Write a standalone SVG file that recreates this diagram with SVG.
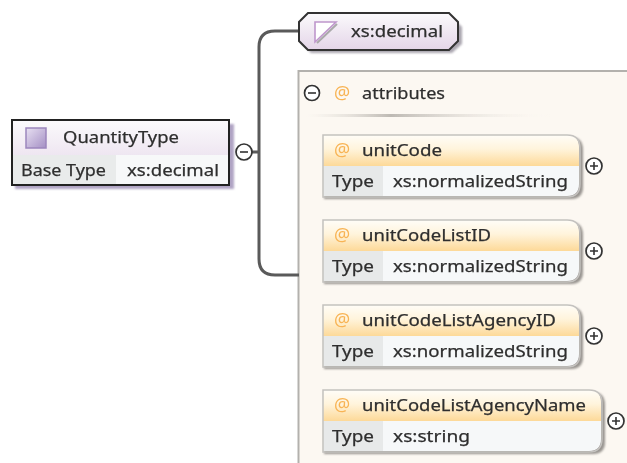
<svg xmlns="http://www.w3.org/2000/svg" width="627" height="463" viewBox="0 0 627 463">
<defs>
<linearGradient id="pg" x1="0" y1="0" x2="0" y2="1"><stop offset="0" stop-color="#fbfafc"/><stop offset="1" stop-color="#e4d5e8"/></linearGradient>
<linearGradient id="og" x1="0" y1="0" x2="0" y2="1"><stop offset="0" stop-color="#fffdf8"/><stop offset="0.45" stop-color="#fff4dc"/><stop offset="1" stop-color="#fdd998"/></linearGradient>
<linearGradient id="sq" x1="0" y1="0" x2="1" y2="1"><stop offset="0" stop-color="#e8e0f2"/><stop offset="1" stop-color="#a48fc4"/></linearGradient>
<linearGradient id="sep" x1="0" y1="0" x2="1" y2="0"><stop offset="0" stop-color="#e8e4de" stop-opacity="0"/><stop offset="0.35" stop-color="#bdb9b3"/><stop offset="1" stop-color="#fbf7f1" stop-opacity="0"/></linearGradient>
<filter id="soft" x="-10%" y="-10%" width="120%" height="120%"><feGaussianBlur stdDeviation="0.4"/></filter>
<filter id="sh" x="-10%" y="-20%" width="120%" height="140%"><feGaussianBlur stdDeviation="1"/></filter>
</defs>
<style>
text{font-family:"Noto Sans","DejaVu Sans",sans-serif;font-size:17px;fill:#2e2e2e;filter:url(#soft);stroke:#2e2e2e;stroke-width:.25}
.at{fill:#f8b455;stroke:none;font-size:18px}
.conn{fill:none;stroke:#5a5a5a;stroke-width:3}
.tog{fill:#fff;stroke:#333;stroke-width:1.7}
.sign{stroke:#333;stroke-width:1.6;fill:none}
.frame{fill:none;stroke:#c4c2bf;stroke-width:1.500}
.hdr{fill:url(#og)}
.lab{fill:#e7e9e9}
.val{fill:#f6f8f9}
.shd{fill:#77736f;opacity:.75;filter:url(#sh)}
</style>
<rect width="627" height="463" fill="#fff"/>
<g id="panel">
<rect x="298.500" y="71" width="340" height="400" fill="#fcf8f2" stroke="#b3b1ad" stroke-width="2"/>
</g>
<g id="connectors">
<path class="conn" d="M244 152H259M299 31H275Q259 31 259 47V259Q259 275 275 275H299"/>
</g>
<g id="quantity-type">
<rect x="15" y="124" width="219" height="65" fill="#b0a4c4" filter="url(#sh)"/>
<rect x="12" y="120" width="217" height="65" fill="url(#pg)"/>
<rect x="12" y="155" width="104" height="30" fill="#e9ebeb"/>
<rect x="116" y="155" width="113" height="30" fill="#f7f8f9"/>
<rect x="12" y="120" width="217" height="65" fill="none" stroke="#222" stroke-width="2"/>
<rect x="26" y="128" width="20" height="20" fill="url(#sq)" stroke="#9c86bd" stroke-width="1.5"/>
<text x="63" y="143" textLength="116" lengthAdjust="spacingAndGlyphs">QuantityType</text>
<text x="21" y="176" textLength="85" lengthAdjust="spacingAndGlyphs">Base Type</text>
<text x="127" y="176" textLength="92" lengthAdjust="spacingAndGlyphs">xs:decimal</text>
<circle class="tog" cx="244" cy="152" r="8"/><path class="sign" d="M240 152H248"/>
</g>
<g id="decimal">
<path d="M311 17H452L462 27V44L452 53H311L302 44V27Z" fill="#8f8996" opacity=".75" filter="url(#sh)"/>
<path d="M308 13H449L458 22V41L449 50H308L299 41V22Z" fill="url(#pg)" stroke="#333" stroke-width="2"/>
<path d="M317 43L337 24" fill="none" stroke="#aaa" stroke-width="2"/>
<path d="M315 22H336L315 42Z" fill="#fff" stroke="#bf97cc" stroke-width="1.6"/>
<text x="351" y="37" textLength="92" lengthAdjust="spacingAndGlyphs">xs:decimal</text>
</g>
<g id="attributes">
<circle class="tog" cx="312" cy="93" r="7.500"/><path class="sign" d="M308 93H316"/>
<text class="at" x="334" y="99">@</text>
<text x="362" y="99" textLength="83" lengthAdjust="spacingAndGlyphs">attributes</text>
<rect x="305" y="114" width="245" height="3" fill="url(#sep)" filter="url(#soft)"/>
</g>
<g id="unitCode">
<path d="M324 137H570Q583 137 583 150V187Q583 199 571 199H324Z" class="shd"/>
<path d="M323 135H567Q579 135 579 147V166H323Z" class="hdr"/>
<rect x="323" y="166" width="60" height="30" class="lab"/>
<path d="M383 166H579V184Q579 196 567 196H383Z" class="val"/>
<path class="frame" d="M323 135H567Q580 135 580 148V184Q580 197 567 197H323Z"/>
<text class="at" x="334" y="156">@</text>
<text x="362" y="156" textLength="80" lengthAdjust="spacingAndGlyphs">unitCode</text>
<text x="332" y="187" textLength="42" lengthAdjust="spacingAndGlyphs">Type</text>
<text x="393" y="187" textLength="175" lengthAdjust="spacingAndGlyphs">xs:normalizedString</text>
<circle class="tog" cx="594" cy="166" r="8"/><path class="sign" d="M590 166H598M594 162V170"/>
</g>
<g id="unitCodeListID">
<path d="M324 222H570Q583 222 583 235V272Q583 284 571 284H324Z" class="shd"/>
<path d="M323 220H567Q579 220 579 232V251H323Z" class="hdr"/>
<rect x="323" y="251" width="60" height="30" class="lab"/>
<path d="M383 251H579V269Q579 281 567 281H383Z" class="val"/>
<path class="frame" d="M323 220H567Q580 220 580 233V269Q580 282 567 282H323Z"/>
<text class="at" x="334" y="241">@</text>
<text x="362" y="241" textLength="129" lengthAdjust="spacingAndGlyphs">unitCodeListID</text>
<text x="332" y="272" textLength="42" lengthAdjust="spacingAndGlyphs">Type</text>
<text x="393" y="272" textLength="175" lengthAdjust="spacingAndGlyphs">xs:normalizedString</text>
<circle class="tog" cx="594" cy="251" r="8"/><path class="sign" d="M590 251H598M594 247V255"/>
</g>
<g id="unitCodeListAgencyID">
<path d="M324 307H570Q583 307 583 320V357Q583 369 571 369H324Z" class="shd"/>
<path d="M323 305H567Q579 305 579 317V336H323Z" class="hdr"/>
<rect x="323" y="336" width="60" height="30" class="lab"/>
<path d="M383 336H579V354Q579 366 567 366H383Z" class="val"/>
<path class="frame" d="M323 305H567Q580 305 580 318V354Q580 367 567 367H323Z"/>
<text class="at" x="334" y="326">@</text>
<text x="362" y="326" textLength="194" lengthAdjust="spacingAndGlyphs">unitCodeListAgencyID</text>
<text x="332" y="357" textLength="42" lengthAdjust="spacingAndGlyphs">Type</text>
<text x="393" y="357" textLength="175" lengthAdjust="spacingAndGlyphs">xs:normalizedString</text>
<circle class="tog" cx="594" cy="336" r="8"/><path class="sign" d="M590 336H598M594 332V340"/>
</g>
<g id="unitCodeListAgencyName">
<path d="M324 392H592Q605 392 605 405V442Q605 454 593 454H324Z" class="shd"/>
<path d="M323 390H589Q601 390 601 402V421H323Z" class="hdr"/>
<rect x="323" y="421" width="60" height="30" class="lab"/>
<path d="M383 421H601V439Q601 451 589 451H383Z" class="val"/>
<path class="frame" d="M323 390H589Q602 390 602 403V439Q602 452 589 452H323Z"/>
<text class="at" x="334" y="411">@</text>
<text x="362" y="411" textLength="224" lengthAdjust="spacingAndGlyphs">unitCodeListAgencyName</text>
<text x="332" y="442" textLength="42" lengthAdjust="spacingAndGlyphs">Type</text>
<text x="393" y="442" textLength="77" lengthAdjust="spacingAndGlyphs">xs:string</text>
<circle class="tog" cx="616" cy="421" r="8"/><path class="sign" d="M612 421H620M616 417V425"/>
</g>
</svg>
